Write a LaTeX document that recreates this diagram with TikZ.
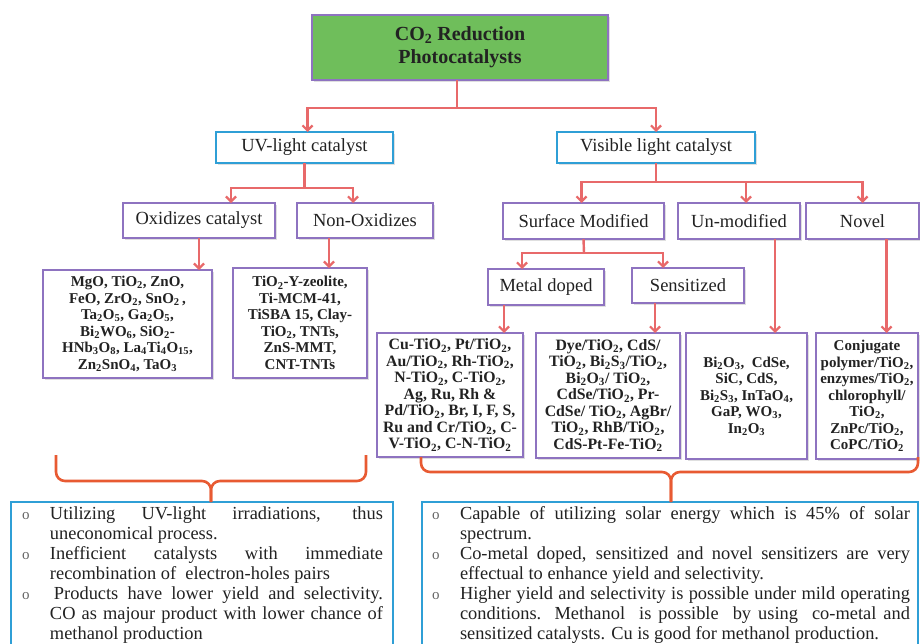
\documentclass[tikz,border=0pt]{standalone}
\usepackage{fontspec}
\setmainfont{Liberation Serif}
\usetikzlibrary{arrows.meta,shadows}
\definecolor{boxgreen}{HTML}{6FBE5B}
\definecolor{boxpurple}{HTML}{8E73C0}
\definecolor{boxblue}{HTML}{2F9FD6}
\definecolor{connred}{HTML}{E8696A}
\definecolor{bracered}{HTML}{E85A32}
\definecolor{inkc}{HTML}{222222}
\newcommand\sbs[1]{\textsubscript{#1}}
\newcommand\bul{{\fontsize{15}{15}\selectfont\color{inkc!70}o}}
\begin{document}
\begin{tikzpicture}[x=1pt,y=-1pt,
  every node/.style={inner sep=0pt, outer sep=0pt, text=inkc},
  shad/.style={drop shadow={opacity=0.25, shadow xshift=1.5pt, shadow yshift=-1.5pt}},
  topbox/.style={draw=boxpurple, line width=1.8pt, fill=boxgreen, shad, align=center, font=\fontsize{20}{23}\selectfont\bfseries},
  bluebox/.style={draw=boxblue, line width=1.8pt, fill=white, shad, font=\fontsize{18.5}{20}\selectfont},
  catbox/.style={draw=boxpurple, line width=1.8pt, fill=white, shad, font=\fontsize{18.5}{20}\selectfont},
  leafbox/.style={draw=boxpurple, line width=1.8pt, fill=white, shad, align=center, font=\fontsize{15}{16.5}\selectfont\bfseries},
  leafbig/.style={leafbox, font=\fontsize{15.8}{16.5}\selectfont\bfseries},
  notebox/.style={draw=boxblue, line width=1.8pt, fill=white},
  conn/.style={draw=connred, line width=2.4pt},
  arr/.style={conn, -{Straight Barb[length=5pt,width=10pt,line width=2.2pt]}},
  brace/.style={draw=bracered, line width=2.6pt, rounded corners=9pt},
  notetext/.style={anchor=north west, align=justify, font=\fontsize{18.4}{20}\selectfont}
]
\useasboundingbox (0,0) rectangle (920,643);
\fill[white] (0,0) rectangle (920,643);
\clip (0,0) rectangle (920,643);

% top
\node[topbox, minimum width=296pt, minimum height=65pt] (top) at (460,47.5) {CO\textsubscript{2} Reduction\\Photocatalysts};

% level 1
\node[bluebox, minimum width=177pt, minimum height=31pt] (uv) at (304.5,147.5) {UV-light catalyst};
\node[bluebox, minimum width=198pt, minimum height=31pt] (vis) at (656,147.5) {Visible light catalyst};

% level 2
\node[catbox, minimum width=152pt, minimum height=35pt] (oxid) at (199,220.5) {Oxidizes catalyst};
\node[catbox, minimum width=136pt, minimum height=35pt] (nonox) at (365,220.5) {Non-Oxidizes};
\node[catbox, minimum width=161pt, minimum height=36pt] (surf) at (583.5,221) {Surface Modified};
\node[catbox, minimum width=122pt, minimum height=36pt] (unmod) at (739,221) {Un-modified};
\node[catbox, minimum width=113pt, minimum height=36pt] (novel) at (862.5,221) {Novel};

% level 3
\node[catbox, minimum width=116pt, minimum height=36pt] (metal) at (546,287) {Metal doped};
\node[catbox, minimum width=112pt, minimum height=35pt] (sens) at (688,285.5) {Sensitized};

% leaves
\node[leafbox, minimum width=169pt, minimum height=108pt] (leafA) at (127.5,324) {MgO, TiO\sbs2, ZnO,\\ FeO, ZrO\sbs2, SnO\sbs2\,,\\ Ta\sbs2O\sbs5, Ga\sbs2O\sbs5,\\ Bi\sbs2WO\sbs6, SiO\sbs2-\\ HNb\sbs3O\sbs8, La\sbs4Ti\sbs4O\sbs{15},\\ Zn\sbs2SnO\sbs4, TaO\sbs3};
\node[leafbox, minimum width=134pt, minimum height=110pt] (leafB) at (300,323) {TiO\sbs2-Y-zeolite,\\ Ti-MCM-41,\\ TiSBA 15, Clay-\\ TiO\sbs2, TNTs,\\ ZnS-MMT,\\ CNT-TNTs};
\node[leafbig, minimum width=146pt, minimum height=124pt] (leafC) at (450,395) {Cu-TiO\sbs2, Pt/TiO\sbs2,\\ Au/TiO\sbs2, Rh-TiO\sbs2,\\ N-TiO\sbs2, C-TiO\sbs2,\\ Ag, Ru, Rh \&\\ Pd/TiO\sbs2, Br, I, F, S,\\ Ru and Cr/TiO\sbs2, C-\\ V-TiO\sbs2, C-N-TiO\sbs2};
\node[leafbig, minimum width=144pt, minimum height=125pt] (leafD) at (608,395.5) {Dye/TiO\sbs2, CdS/\\ TiO\sbs2, Bi\sbs2S\sbs3/TiO\sbs2,\\ Bi\sbs2O\sbs3/ TiO\sbs2,\\ CdSe/TiO\sbs2, Pr-\\ CdSe/ TiO\sbs2, AgBr/\\ TiO\sbs2, RhB/TiO\sbs2,\\ CdS-Pt-Fe-TiO\sbs2};
\node[leafbox, minimum width=121pt, minimum height=126pt] (leafE) at (746.5,396) {Bi\sbs2O\sbs3,~ CdSe,\\ SiC, CdS,\\ Bi\sbs2S\sbs3, InTaO\sbs4,\\ GaP, WO\sbs3,\\ In\sbs2O\sbs3};
\node[leafbox, minimum width=102pt, minimum height=126pt] (leafF) at (867,396) {Conjugate\\ polymer/TiO\sbs2,\\ enzymes/TiO\sbs2,\\ chlorophyll/\\ TiO\sbs2,\\ ZnPc/TiO\sbs2,\\ CoPC/TiO\sbs2};

% connectors
\coordinate (j0) at (457,108);
\draw[conn] (top.south -| j0) -- (j0);
\draw[arr] (j0) -| ([xshift=3pt]uv.north);
\draw[arr] (j0) -| (vis.north);

\coordinate (j1) at (304.5,188);
\draw[conn] (uv.south) -- (j1);
\draw[arr] (j1) -| ([xshift=32pt]oxid.north);
\draw[arr] (j1) -| ([xshift=-12pt]nonox.north);

\coordinate (j2) at (656,182);
\draw[conn] (vis.south) -- (j2);
\draw[arr] (j2) -| ([xshift=-2pt]surf.north);
\draw[arr] (j2) -| ([xshift=7pt]unmod.north);
\draw[arr] (j2) -| (novel.north);

\coordinate (j3) at (584,253);
\draw[conn] (surf.south) -- (j3);
\draw[arr] (j3) -| ([xshift=-24pt]metal.north);
\draw[arr] (j3) -| ([xshift=-25pt]sens.north);

\draw[arr] (oxid.south) -- (oxid.south |- leafA.north);
\draw[arr] ([xshift=-36pt]nonox.south) -- ([xshift=-36pt]nonox.south |- leafB.north);
\draw[arr] ([xshift=-42pt]metal.south) -- ([xshift=-42pt]metal.south |- leafC.north);
\draw[arr] ([xshift=-33pt]sens.south) -- ([xshift=-33pt]sens.south |- leafD.north);
\draw[arr] ([xshift=36pt]unmod.south) -- ([xshift=36pt]unmod.south |- leafE.north);
\draw[arr] ([xshift=24pt]novel.south) -- ([xshift=24pt]novel.south |- leafF.north);

% bottom boxes
\node[notebox, minimum width=382pt, minimum height=158pt] (botL) at (202,581) {};
\node[notebox, minimum width=496pt, minimum height=158pt] (botR) at (670,581) {};

% braces
\coordinate (bLl) at (56,455);
\coordinate (bLr) at (366,455);
\coordinate (bLm) at (211,481);
\draw[brace] (bLl) |- (bLm) -- (botL.north -| bLm);
\draw[brace] (bLr) |- (bLm) -- (botL.north -| bLm);
\coordinate (bRl) at (421,457);
\coordinate (bRr) at (918,457);
\coordinate (bRm) at (671,472);
\draw[brace] (bRl) |- (bRm) -- (botR.north -| bRm);
\draw[brace] (bRr) |- (bRm) -- (botR.north -| bRm);

% notes
\node[notetext, text width=361pt] (txtL) at (22,505) {%
\noindent\hangindent=28pt\hangafter=1\makebox[28pt][l]{\bul}\strut Utilizing UV-light irradiations, thus\linebreak uneconomical process.\par
\noindent\hangindent=28pt\hangafter=1\makebox[28pt][l]{\bul}Inefficient catalysts with immediate\linebreak recombination of~ electron-holes pairs\par
\noindent\hangindent=28pt\hangafter=1\makebox[28pt][l]{\bul}\hspace{4pt}Products have lower yield and selectivity.\linebreak CO as majour product with lower chance of\linebreak methanol production\par};
\node[notetext, text width=478pt] (txtR) at (432,505) {%
\noindent\hangindent=28pt\hangafter=1\makebox[28pt][l]{\bul}\strut Capable of utilizing solar energy which is 45\% of solar\linebreak spectrum.\par
\noindent\hangindent=28pt\hangafter=1\makebox[28pt][l]{\bul}Co-metal doped, sensitized and novel sensitizers are very\linebreak effectual to enhance yield and selectivity.\par
\noindent\hangindent=28pt\hangafter=1\makebox[28pt][l]{\bul}Higher yield and selectivity is possible under mild operating\linebreak conditions. Methanol~ is possible~ by using~ co-metal and\linebreak sensitized catalysts. Cu is good for methanol production.\par};
\end{tikzpicture}
\end{document}
